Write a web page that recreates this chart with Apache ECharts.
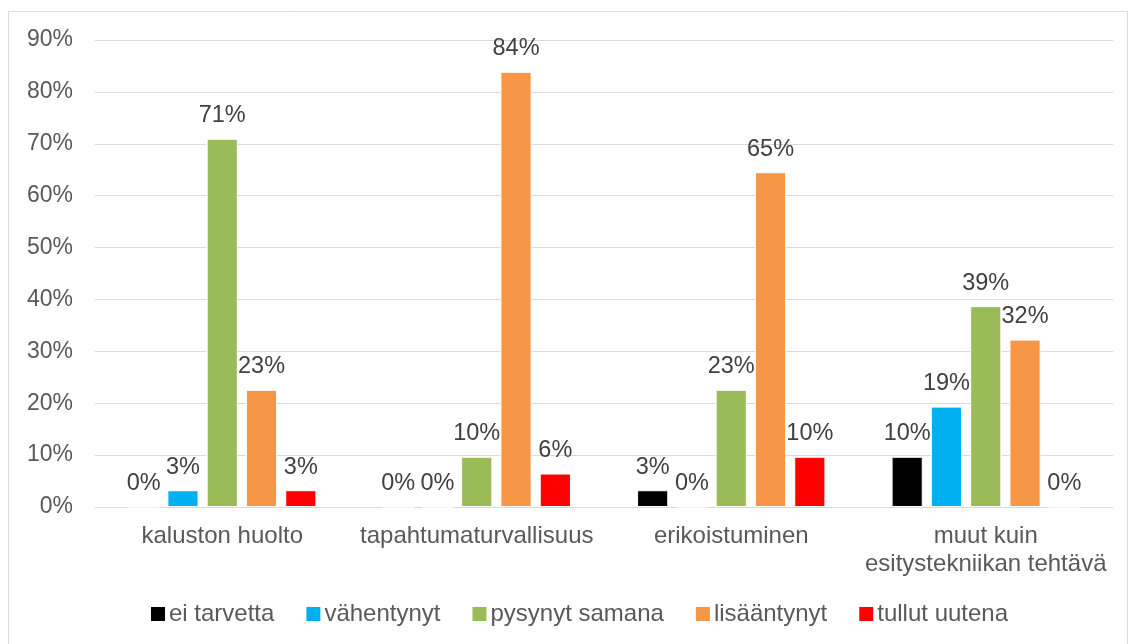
<!DOCTYPE html>
<html>
<head>
<meta charset="utf-8">
<script src="https://cdn.jsdelivr.net/npm/echarts@6/dist/echarts.min.js"></script>
<style>
  html, body { margin: 0; padding: 0; background: #fff; }
  #main { width: 1131px; height: 644px; }
</style>
</head>
<body>
<div id="main"></div>
<script>
// kategoriat ja sarjat (prosentteina, n = 31)
var categories = ['kaluston huolto', 'tapahtumaturvallisuus', 'erikoistuminen', 'muut kuin\nesitystekniikan tehtävä'];
var eiTarvetta = [0, 0, 3.23, 9.68];
var vahentynyt = [3.23, 0, 0, 19.35];
var pysynytSamana = [70.97, 9.68, 22.58, 38.71];
var lisaantynyt = [22.58, 83.87, 64.52, 32.26];
var tullutUutena = [3.23, 6.45, 9.68, 0];
var seriesNames = ['ei tarvetta', 'vähentynyt', 'pysynyt samana', 'lisääntynyt', 'tullut uutena'];
var colors = ['#000000', '#00B0F0', '#9BBB59', '#F79646', '#FF0000'];
var yTicks = [0, 10, 20, 30, 40, 50, 60, 70, 80, 90];

var allData = [eiTarvetta, vahentynyt, pysynytSamana, lisaantynyt, tullutUutena];
var font = 'Liberation Sans, Arial, sans-serif';

var chart = echarts.init(document.getElementById('main'));

var series = allData.map(function (d, i) {
  return {
    name: seriesNames[i],
    type: 'bar',
    data: d,
    barGap: '26%',
    barCategoryGap: '26%',
    itemStyle: { color: colors[i], borderColor: '#fff', borderWidth: 1 },
    label: {
      show: true,
      position: 'top',
      distance: 11,
      color: '#404040',
      fontSize: 23.5,
      fontFamily: font,
      formatter: function (p) { return Math.round(p.value) + '%'; }
    }
  };
});

var option = {
  animation: false,
  color: colors,
  graphic: [{
    type: 'rect',
    shape: { x: 8.5, y: 11.5, width: 1119, height: 640 },
    style: { fill: 'none', stroke: '#d9d9d9', lineWidth: 1 },
    silent: true
  }],
  grid: { left: 95, right: 18, top: 40, bottom: 137 },
  legend: {
    top: 597,
    left: 146,
    itemWidth: 14,
    itemHeight: 14,
    itemGap: 32,
    icon: 'rect',
    itemStyle: { borderWidth: 0 },
    textStyle: { fontSize: 24, color: '#595959', fontFamily: font, padding: [0, 0, 0, -1] },
    data: seriesNames
  },
  xAxis: {
    type: 'category',
    data: categories,
    axisTick: { show: false },
    axisLine: { lineStyle: { color: '#d9d9d9', width: 1 } },
    axisLabel: { fontSize: 24, color: '#595959', fontFamily: font, margin: 15, lineHeight: 28, interval: 0 }
  },
  yAxis: {
    type: 'value',
    min: yTicks[0],
    max: yTicks[yTicks.length - 1],
    interval: 10,
    axisLine: { show: false },
    axisTick: { show: false },
    splitLine: { lineStyle: { color: '#d9d9d9', width: 1 } },
    axisLabel: { fontSize: 23, color: '#595959', fontFamily: font, margin: 22, formatter: '{value}%' }
  },
  series: series
};

chart.setOption(option);
</script>
</body>
</html>
